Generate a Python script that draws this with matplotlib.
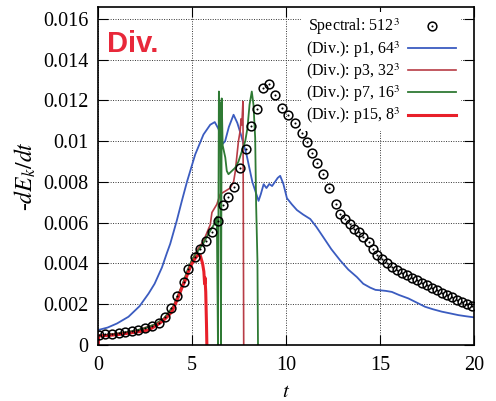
import matplotlib
matplotlib.use("Agg")
import matplotlib.pyplot as plt

plt.rcParams['font.family'] = 'serif'
plt.rcParams['font.serif'] = ['Liberation Serif', 'DejaVu Serif']
plt.rcParams['mathtext.fontset'] = 'stix'

# spectral 512^3 reference (circles)
t_spec = [0.02, 0.37, 0.73, 1.08, 1.44, 1.79, 2.14, 2.5, 2.86, 3.21, 3.56, 3.87,
          4.18, 4.54, 4.8, 5.16, 5.43, 5.74, 6.05, 6.37, 6.63, 6.93, 7.23, 7.55,
          7.87, 8.14, 8.44, 8.76, 9.06, 9.4, 9.77, 10.12, 10.48, 10.84, 11.13,
          11.37, 11.63, 11.98, 12.3, 12.63, 12.87, 13.14, 13.37, 13.62, 13.85,
          14.11, 14.38, 14.6, 14.82, 15.09, 15.36, 15.62, 15.89, 16.15, 16.42,
          16.69, 16.95, 17.22, 17.48, 17.75, 18.02, 18.28, 18.55, 18.81, 19.08,
          19.35, 19.61, 19.88]
y_spec = [0.00049, 0.00052, 0.00054, 0.00057, 0.00062, 0.00067, 0.00073, 0.00081,
          0.00093, 0.00109, 0.00138, 0.00180, 0.00239, 0.00309, 0.00372, 0.00431,
          0.00470, 0.00510, 0.00552, 0.00610, 0.00686, 0.00725, 0.00776, 0.00870,
          0.00962, 0.01073, 0.01160, 0.01263, 0.01281, 0.01226, 0.01162, 0.01130,
          0.01089, 0.01040, 0.00995, 0.00943, 0.00894, 0.00838, 0.00769, 0.00694,
          0.00645, 0.00620, 0.00594, 0.00569, 0.00553, 0.00532, 0.00504, 0.00470,
          0.00443, 0.00423, 0.00400, 0.00382, 0.00366, 0.00354, 0.00341, 0.00328,
          0.00317, 0.00304, 0.00293, 0.00280, 0.00268, 0.00255, 0.00244, 0.00233,
          0.00220, 0.00211, 0.00203, 0.00192]

# (Div.) p1, 64^3
t_p1 = [0, 0.5, 1.0, 1.61, 2.2, 2.68, 3.0, 3.39, 3.65, 3.83, 4.18, 4.45, 4.72,
        5.16, 5.6, 5.96, 6.2, 6.4, 6.6, 6.75, 6.95, 7.2, 7.4, 7.6, 7.9, 8.2,
        8.53, 8.65, 8.8, 8.95, 9.1, 9.25, 9.4, 9.55, 9.68, 9.85, 10.04, 10.3,
        10.57, 10.9, 11.28, 11.6, 11.98, 12.4, 12.87, 13.3, 13.76, 14.1, 14.47,
        14.75, 15.0, 15.3, 15.62, 16.0, 16.5, 17.0, 17.39, 17.8, 18.28, 18.7,
        19.16, 19.6, 20]
y_p1 = [0.00073, 0.00085, 0.00105, 0.00138, 0.0019, 0.00252, 0.0030, 0.0038,
        0.0045, 0.00496, 0.0061, 0.00707, 0.0080, 0.00935, 0.01033, 0.01081,
        0.01094, 0.0106, 0.00985, 0.0100, 0.0107, 0.0113, 0.0109, 0.0103,
        0.0093, 0.0080, 0.00707, 0.0074, 0.00789, 0.0077, 0.0079, 0.0078,
        0.0080, 0.0082, 0.0083, 0.0079, 0.0072, 0.0069, 0.00662, 0.0064,
        0.00618, 0.0058, 0.00528, 0.0047, 0.00415, 0.0037, 0.00333, 0.0030,
        0.00281, 0.0027, 0.00268, 0.00265, 0.0026, 0.00245, 0.00228, 0.00205,
        0.00187, 0.00175, 0.00163, 0.00155, 0.00146, 0.0014, 0.00135]

# (Div.) p3, 32^3
t_p3 = [0, 0.02, 1.0, 2.0, 3.0, 3.5, 4.0, 4.5, 5.0, 5.3, 5.6, 5.96, 6.05, 6.31,
        6.49, 6.67, 7.02, 7.2, 7.29, 7.38, 7.46, 7.55, 7.6, 7.64, 7.7, 7.74]
y_p3 = [0.0, 0.00045, 0.00055, 0.0007, 0.001, 0.0013, 0.0019, 0.0030, 0.0042,
        0.0047, 0.0051, 0.0059, 0.0065, 0.0069, 0.0074, 0.0075, 0.0077, 0.0080,
        0.0085, 0.0093, 0.0100, 0.0105, 0.0111, 0.0108, 0.01195, 0.0]

# (Div.) p7, 16^3
t_p7 = [0, 0.5, 1.0, 1.5, 2.0, 2.5, 3.0, 3.5, 4.0, 4.5, 4.72, 5.0, 5.3, 5.6,
        5.96, 6.22, 6.31, 6.37, 6.42, 6.46, 6.5, 6.53, 6.57, 6.62, 6.76, 6.84,
        6.93, 7.11, 7.29, 7.46, 7.64, 7.82, 7.94, 8.05, 8.17, 8.26, 8.35, 8.4,
        8.47, 8.5]
y_p7 = [0.00045, 0.0005, 0.00055, 0.00062, 0.0007, 0.00082, 0.001, 0.0013,
        0.0019, 0.0030, 0.0036, 0.0042, 0.0046, 0.0050, 0.00561, 0.0060, 0.0063,
        0.0, 0.01244, 0.0100, 0.0119, 0.0, 0.0121, 0.0098, 0.0092, 0.00854,
        0.00838, 0.00854, 0.0087, 0.0090, 0.0095, 0.0100, 0.01065, 0.01179,
        0.01244, 0.01179, 0.01016, 0.0069, 0.00415, 0.0]

# (Div.) p15, 8^3
t_p15 = [0, 0.02, 0.5, 1.0, 1.61, 2.2, 2.68, 3.0, 3.39, 3.7, 3.92, 4.1, 4.27,
         4.45, 4.63, 4.8, 4.98, 5.16, 5.3, 5.43, 5.55, 5.62, 5.66, 5.68, 5.72,
         5.76, 5.78]
y_p15 = [0.0, 0.00044, 0.00046, 0.0005, 0.00057, 0.00065, 0.00073, 0.0009,
         0.00114, 0.0014, 0.00163, 0.002, 0.00236, 0.0028, 0.00317, 0.0036,
         0.00398, 0.00425, 0.0044, 0.00439, 0.0040, 0.0036, 0.0030, 0.0033,
         0.0026, 0.0010, 0.0]

labels = ['Spectral: 512$^3$', '(Div.): p1, 64$^3$', '(Div.): p3, 32$^3$',
          '(Div.): p7, 16$^3$', '(Div.): p15, 8$^3$']

fig = plt.figure(figsize=(4.96, 4.01), dpi=100)
ax = fig.add_axes([0.198, 0.140, 0.758, 0.843])

l1, = ax.plot(t_p1, y_p1, color='#3b5cc0', lw=1.3)
l3, = ax.plot(t_p3, y_p3, color='#b83c46', lw=1.2)
l7, = ax.plot(t_p7, y_p7, color='#2f7a34', lw=1.3)
l15, = ax.plot(t_p15, y_p15, color='#e8202a', lw=2.2)
circ, = ax.plot(t_spec, y_spec, 'o', ms=6.3, mfc='none', mec='black', mew=1.1)
dot, = ax.plot(t_spec, y_spec, 'o', ms=1.5, mfc='black', mec='black', mew=0)

ax.set_xlim(0, 20)
ax.set_ylim(0, 0.0166)
ax.set_xticks([0, 5, 10, 15, 20])
ax.set_yticks([0, 0.002, 0.004, 0.006, 0.008, 0.01, 0.012, 0.014, 0.016])
ax.set_yticklabels(['0', '0.002', '0.004', '0.006', '0.008', '0.01', '0.012',
                    '0.014', '0.016'])
ax.tick_params(direction='in', top=True, right=True, length=7, width=0.8,
               labelsize=14.5)
ax.tick_params(axis='y', pad=7)
ax.tick_params(axis='x', pad=8)
ax.grid(True, color='#333333', linestyle=(0, (1, 1.5)), linewidth=0.7)
for s in ax.spines.values():
    s.set_linewidth(1.2)

ax.set_xlabel('$t$', fontsize=15, labelpad=6)
ax.set_ylabel('-$dE_k/dt$', fontsize=17, labelpad=4)

ax.text(0.024, 0.867, 'Div.', transform=ax.transAxes, color='#e8283a',
        fontsize=21, fontweight='bold', family='Liberation Sans', va='baseline')

leg = ax.legend([(circ, dot), l1, l3, l7, l15], labels, loc='upper right',
                bbox_to_anchor=(0.985, 1.008), fontsize=11.5, markerfirst=False,
                handlelength=3.0, handletextpad=0.5, labelspacing=0.1,
                frameon=True, facecolor='white', edgecolor='none',
                framealpha=1.0, fancybox=False, borderpad=0.3)

fig.savefig('out.png', dpi=100)
